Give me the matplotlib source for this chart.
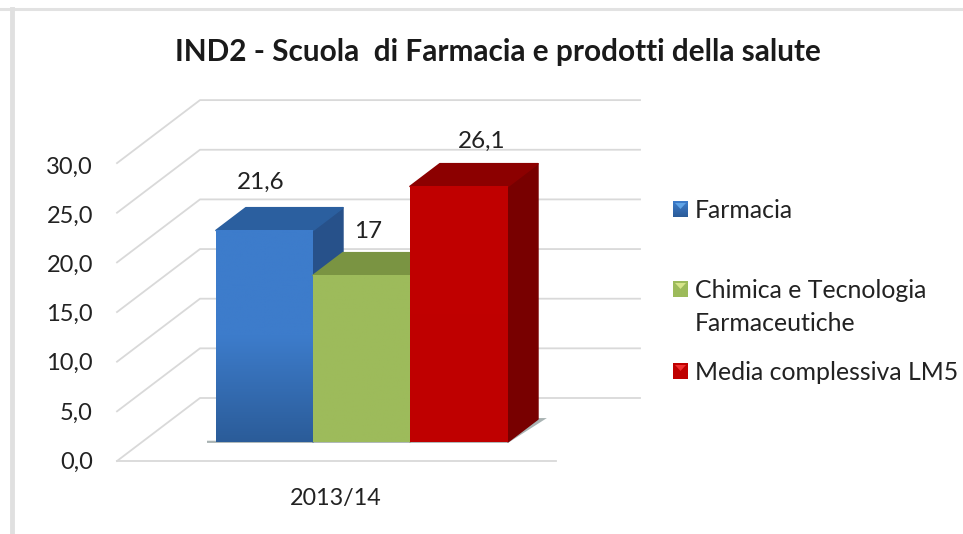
import matplotlib
matplotlib.use("Agg")
import matplotlib.pyplot as plt
from matplotlib.colors import LinearSegmentedColormap
from matplotlib.patches import Polygon
import numpy as np

plt.rcParams['font.family'] = ['Lato', 'DejaVu Sans']

title = "IND2 - Scuola  di Farmacia e prodotti della salute"
categories = ["2013/14"]
series = ["Farmacia", "Chimica e Tecnologia\nFarmaceutiche", "Media complessiva LM5"]
values = [21.6, 17.0, 26.1]
value_labels = ["21,6", "17", "26,1"]
ticks = [0, 5, 10, 15, 20, 25, 30]
tick_labels = ["0,0", "5,0", "10,0", "15,0", "20,0", "25,0", "30,0"]

# colours per bar: front top, front bottom, top face, side face
front_top = ["#3d7ccb", "#9dbb5b", "#c00000"]
front_bottom = ["#2b5c99", "#9dbb5b", "#bf0000"]
top_face = ["#2b5f9f", "#7a9442", "#8c0000"]
side_face = ["#27518a", "#7a9442", "#780000"]
legend_light = ["#5fa3e6", "#d6e48a", "#f03030"]

# x axis is in pixels, y axis is in chart values
PX = 9.93                # pixels for one unit on the value axis
ZERO_Y = 461             # pixel row of value 0 on the front edge
DX, DY = 83, 63 / PX     # shift from front edge to back wall
BAR_SCALE = 0.985        # bars stand further back, so they look a bit smaller
BAR_X = [216, 313, 410]
BAR_W = [97, 97, 98]
BAR_D = 0.36             # bar depth, as a part of the floor depth
BAR_START = 0.306        # where the bar fronts stand on the floor

fig = plt.figure(figsize=(9.63, 5.34), dpi=100)
ax = fig.add_axes([0, 0, 1, 1])


def row(px):
    # pixel row -> y data value, for frame and text placement
    return (ZERO_Y - px) / PX


# outer frame of the screenshot
ax.plot([0, 963], [row(9), row(9)], color="#e2e2e2", lw=2.2, zorder=1)
ax.plot([11.5, 11.5], [row(9), row(534)], color="#e0e0e0", lw=3.5, zorder=1)

# walls and floor gridlines
for t in ticks:
    ax.plot([117, 117 + DX, 640], [t, t + DY, t + DY], color="#d9d9d9", lw=1.3, zorder=2)
ax.plot([117, 556], [0, 0], color="#d9d9d9", lw=1.3, zorder=2)

for t, lab in zip(ticks, tick_labels):
    ax.text(93, row(ZERO_Y - t * 9.83 + 1), lab, ha="right", va="center", fontsize=17, color="#222222")

base = BAR_START * DY
sx = BAR_D * DX
sy = BAR_D * DY
right = BAR_X[-1] + BAR_W[-1]

# thin shadow under the bars
ax.add_patch(Polygon([(207, base - 0.12), (right, base - 0.12), (right + sx + 9, base + sy + 0.1),
                      (right + sx, base + sy + 0.1), (right, base + 0.1), (207, base + 0.1)],
                     closed=True, fc="#a9b3b3", ec="none", zorder=3))

# each bar hides part of the one before it
for i in range(len(values)):
    x0 = BAR_X[i]
    x1 = x0 + BAR_W[i]
    h = base + values[i] * BAR_SCALE
    ax.add_patch(Polygon([(x1, base), (x1 + sx, base + sy), (x1 + sx, h + sy), (x1, h)],
                         closed=True, fc=side_face[i], ec=side_face[i], lw=1.2,
                         joinstyle="round", zorder=4 + i))
    ax.add_patch(Polygon([(x0, h), (x0 + sx, h + sy), (x1 + sx, h + sy), (x1, h)],
                         closed=True, fc=top_face[i], ec=top_face[i], lw=1.2,
                         joinstyle="round", zorder=4 + i))
    cmap = LinearSegmentedColormap.from_list("f", [front_bottom[i], front_top[i], front_top[i]])
    ax.imshow(np.linspace(1, 0, 128).reshape(-1, 1), cmap=cmap, aspect="auto",
              extent=[x0, x1, base, h], zorder=4.5 + i)

# data labels
label_x = [261, 368, 482]
label_y = [182, 231, 141]
for lx, ly, lab in zip(label_x, label_y, value_labels):
    ax.text(lx, row(ly), lab, ha="center", va="center", fontsize=17.5, color="#222222", zorder=10)

ax.text(336, row(498), categories[0], ha="center", va="center", fontsize=16.8, color="#222222")

ax.text(498, row(52), title, ha="center", va="center", fontsize=21.4, fontweight="bold", color="#1a1a1a")

# legend
legend_y = [209, 289, 371]
text_y = [211, 307, 372]
for i, name in enumerate(series):
    y0 = row(legend_y[i] + 8)
    y1 = row(legend_y[i] - 8)
    cmap = LinearSegmentedColormap.from_list("l", [front_bottom[i], front_top[i]])
    ax.imshow(np.linspace(1, 0, 32).reshape(-1, 1), cmap=cmap, aspect="auto",
              extent=[673, 688, y0, y1], zorder=4)
    ax.add_patch(Polygon([(675, y1 - 0.2), (686, y1 - 0.2), (680.5, y1 - 0.8)],
                         closed=True, fc=legend_light[i], ec="none", zorder=5))
    ax.text(695, row(text_y[i]), name, ha="left", va="center", fontsize=17.9,
            color="#222222", linespacing=1.5)

ax.set_xlim(0, 963)
ax.set_ylim((ZERO_Y - 534) / PX, ZERO_Y / PX)
ax.axis("off")

fig.savefig("out.png", dpi=100)
